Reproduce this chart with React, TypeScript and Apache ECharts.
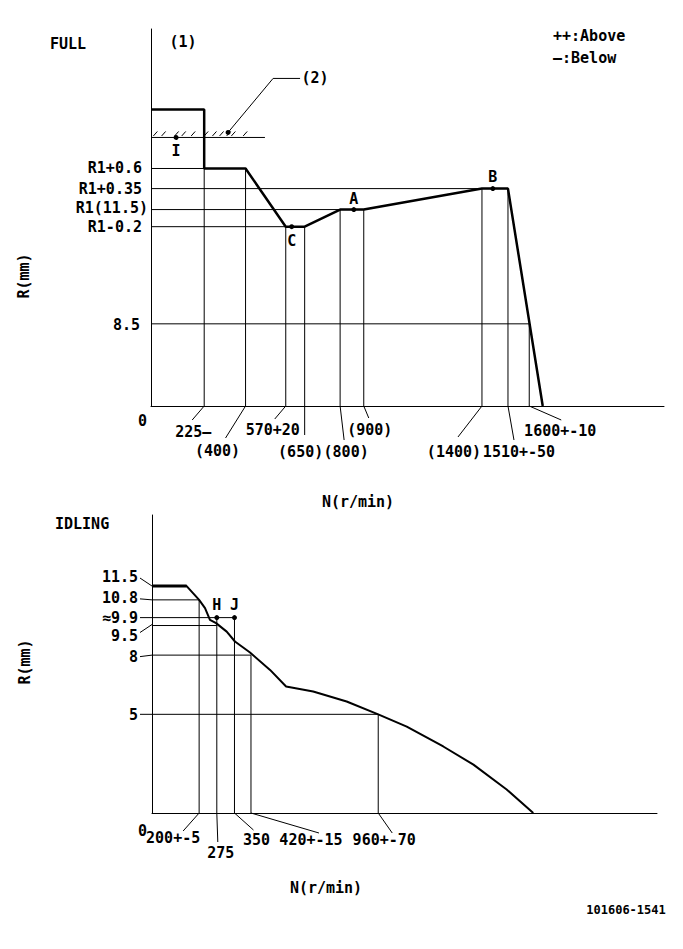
import React, { useEffect, useRef } from "react";
import * as echarts from "echarts";

const FAMILY = '"DejaVu Sans Mono", monospace';
const FONT = `bold 15px ${FAMILY}`;

// ---------------- FULL chart (schematic heights above 8.5) ----------------
const fullYLabels = ["0", "8.5", "R1-0.2", "R1(11.5)", "R1+0.35", "R1+0.6"];
const fullYLevels = [0, 8.5, 18.55, 20.32, 22.49, 24.57];
const fullYReach = [0, 1600, 650, 900, 1510, 225];
const fullStopLevel = 27.78;
const fullStopReach = 482;
const fullCurveRpm = [0, 225, 225, 400, 570, 650, 800, 900, 1400, 1510, 1657];
const fullCurveR = [30.68, 30.68, 24.57, 24.57, 18.55, 18.55, 20.32, 20.32, 22.49, 22.49, 0];
const fullTickRpm = [225, 400, 570, 650, 800, 900, 1400, 1510, 1600];
const fullTickLabels = ["225—", "(400)", "570+20", "(650)", "(800)", "(900)", "(1400)", "1510+-50", "1600+-10"];
const fullTickTop = [24.57, 24.57, 18.55, 18.55, 20.32, 20.32, 22.49, 22.49, 8.5];
const fullPointNames = ["I", "C", "A", "B"];
const fullPointRpm = [106, 595, 858, 1446];
const fullPointR = [27.78, 18.55, 20.32, 22.49];
const hatchRpm = [10, 45, 100, 130, 170, 225, 260, 290, 320, 340, 390];
const calloutRpm = [326];
const calloutR = [28.3];

// ---------------- IDLING chart ----------------
const idleYLabels = ["0", "5", "8", "9.5", "≈9.9", "10.8", "11.5"];
const idleYLevels = [0, 5, 8, 9.5, 9.9, 10.8, 11.5];
const idleYReach = [0, 960, 420, 275, 350, 200, 0];
const idleCurveRpm = [0, 147, 200, 225, 246, 272, 317, 352, 416, 501, 569, 684, 826, 960, 1081, 1236, 1364, 1505, 1618];
const idleCurveR = [11.5, 11.5, 10.8, 10.38, 9.79, 9.62, 9.19, 8.69, 8.13, 7.25, 6.41, 6.16, 5.65, 5.0, 4.38, 3.37, 2.45, 1.19, 0];
const idlePlateauRpm = [0, 147];
const idleTickRpm = [200, 275, 350, 420, 960];
const idleTickLabels = ["200+-5", "275", "350", "420+-15", "960+-70"];
const idleTickTop = [10.8, 9.9, 9.9, 8, 5];
const idlePointNames = ["H", "J"];
const idlePointRpm = [275, 350];
const idlePointR = [9.9, 9.9];

// ---------------- layout (pixel offsets) ----------------
const fullTickLeader = [[-12, 14], [-20, 32], [-11, 13], [0, 29], [4, 34], [5, 12], [-24, 31], [6, 34], [32, 14]];
const fullTickText = [[-11, 26], [-28, 45], [-13, 24], [-4, 46], [6, 46], [6, 24], [-28, 46], [11, 46], [31, 25]];
const fullYText = [[-4, 15], [-11, 1], [-9, 0], [-3, -2], [-9, 0], [-9, 0]];
const fullPointLabelDy = [14, 14, -11, -12];
const idleTickLeader = [[-16, 18], [1, 29], [19, 17], [68, 20], [14, 20]];
const idleTickText = [[-26, 25], [4, 40], [22, 27], [60, 27], [6, 27]];
const idleYText = [[-5, 18], [-14, 1], [-14, 2], [-14, 10], [-14, 0], [-14, -2], [-14, -9]];
const idleYLeader: (number[] | null)[] = [null, [-12, 0, 0, 0], [-12, 1.5, 0, 0], [-12, 7, 0, -1], [-12, 0, 0, 0], [-12, -1, 0, 0], [-12, -8, 0, 0]];
const idlePointLabelDy = [-13, -13];

function segSeries(grid: number, segs: number[][], width: number, z = 1) {
  return {
    type: "custom",
    xAxisIndex: grid,
    yAxisIndex: grid,
    silent: true,
    clip: false,
    z,
    data: segs,
    renderItem: (_p: any, api: any) => {
      const a = api.coord([api.value(0), api.value(1)]);
      const b = api.coord([api.value(2), api.value(3)]);
      return {
        type: "line",
        shape: { x1: a[0], y1: a[1], x2: b[0], y2: b[1] },
        style: { stroke: "#000", lineWidth: width },
      };
    },
  };
}

function tickSeries(grid: number, rpms: number[], labels: string[], leader: number[][], textPos: number[][]) {
  return {
    type: "custom",
    xAxisIndex: grid,
    yAxisIndex: grid,
    silent: true,
    clip: false,
    data: rpms.map((r, i) => [r, 0, i]),
    renderItem: (_p: any, api: any) => {
      const i = api.value(2);
      const p = api.coord([api.value(0), 0]);
      return {
        type: "group",
        children: [
          {
            type: "line",
            shape: { x1: p[0], y1: p[1], x2: p[0] + leader[i][0], y2: p[1] + leader[i][1] },
            style: { stroke: "#000", lineWidth: 1 },
          },
          {
            type: "text",
            x: p[0] + textPos[i][0],
            y: p[1] + textPos[i][1],
            style: { text: labels[i], font: FONT, fill: "#000", align: "center", verticalAlign: "middle" },
          },
        ],
      };
    },
  };
}

function yLabelSeries(grid: number, levels: number[], labels: string[], textPos: number[][], leaders: (number[] | null)[]) {
  return {
    type: "custom",
    xAxisIndex: grid,
    yAxisIndex: grid,
    silent: true,
    clip: false,
    data: levels.map((l, i) => [0, l, i]),
    renderItem: (_p: any, api: any) => {
      const i = api.value(2);
      const p = api.coord([0, api.value(1)]);
      const children: any[] = [
        {
          type: "text",
          x: p[0] + textPos[i][0],
          y: p[1] + textPos[i][1],
          style: { text: labels[i], font: FONT, fill: "#000", align: "right", verticalAlign: "middle" },
        },
      ];
      const ld = leaders[i];
      if (ld) {
        children.push({
          type: "line",
          shape: { x1: p[0] + ld[0], y1: p[1] + ld[1], x2: p[0] + ld[2], y2: p[1] + ld[3] },
          style: { stroke: "#000", lineWidth: 1 },
        });
      }
      return { type: "group", children };
    },
  };
}

function pointSeries(grid: number, names: string[], xs: number[], ys: number[], dy: number[]) {
  return {
    type: "custom",
    xAxisIndex: grid,
    yAxisIndex: grid,
    silent: true,
    clip: false,
    z: 5,
    data: names.map((_n, i) => [xs[i], ys[i], i]),
    renderItem: (_p: any, api: any) => {
      const i = api.value(2);
      const p = api.coord([api.value(0), api.value(1)]);
      return {
        type: "group",
        children: [
          { type: "circle", shape: { cx: p[0], cy: p[1], r: 2.5 }, style: { fill: "#000" } },
          {
            type: "text",
            x: p[0],
            y: p[1] + dy[i],
            style: { text: names[i], font: FONT, fill: "#000", align: "center", verticalAlign: "middle" },
          },
        ],
      };
    },
  };
}

function axisDef(grid: number, max: number) {
  return {
    type: "value",
    gridIndex: grid,
    min: 0,
    max,
    axisLine: { show: true, onZero: false, lineStyle: { color: "#000", width: 1 } },
    axisTick: { show: false },
    axisLabel: { show: false },
    splitLine: { show: false },
  };
}

function textEl(text: string, x: number, y: number, align = "left", size = 15, rotation = 0) {
  return {
    type: "text",
    x,
    y,
    rotation,
    style: { text, font: `bold ${size}px ${FAMILY}`, fill: "#000", align, verticalAlign: "middle" },
  };
}

export default function App() {
  const ref = useRef<HTMLDivElement>(null);
  useEffect(() => {
    if (!ref.current) return;
    const chart = echarts.init(ref.current, undefined, { renderer: "svg" });

    const fullSegs: number[][] = [];
    fullYLevels.forEach((l, i) => {
      if (fullYReach[i] > 0) fullSegs.push([0, l, fullYReach[i], l]);
    });
    fullTickRpm.forEach((r, i) => fullSegs.push([r, 0, r, fullTickTop[i]]));
    fullSegs.push([0, fullStopLevel, fullStopReach, fullStopLevel]);

    const idleSegs: number[][] = [];
    idleYLevels.forEach((l, i) => {
      if (idleYReach[i] > 0) idleSegs.push([0, l, idleYReach[i], l]);
    });
    idleTickRpm.forEach((r, i) => idleSegs.push([r, 0, r, idleTickTop[i]]));

    const option: any = {
      animation: false,
      backgroundColor: "#fff",
      grid: [
        { left: 151, top: 29, width: 513, height: 377 },
        { left: 152, top: 515, width: 505, height: 298 },
      ],
      xAxis: [axisDef(0, 2170), axisDef(1, 2143)],
      yAxis: [axisDef(0, 39), axisDef(1, 15.1)],
      series: [
        segSeries(0, fullSegs, 1),
        segSeries(1, idleSegs, 1),
        {
          type: "line",
          xAxisIndex: 0,
          yAxisIndex: 0,
          silent: true,
          z: 3,
          showSymbol: false,
          lineStyle: { color: "#000", width: 2.5 },
          data: fullCurveRpm.map((r, i) => [r, fullCurveR[i]]),
        },
        {
          type: "line",
          xAxisIndex: 1,
          yAxisIndex: 1,
          silent: true,
          z: 3,
          showSymbol: false,
          lineStyle: { color: "#000", width: 2 },
          data: idleCurveRpm.map((r, i) => [r, idleCurveR[i]]),
        },
        {
          type: "line",
          xAxisIndex: 1,
          yAxisIndex: 1,
          silent: true,
          z: 3,
          showSymbol: false,
          lineStyle: { color: "#000", width: 3 },
          data: idlePlateauRpm.map((r) => [r, idleCurveR[0]]),
        },
        {
          type: "custom",
          xAxisIndex: 0,
          yAxisIndex: 0,
          silent: true,
          clip: false,
          data: hatchRpm.map((r) => [r, fullStopLevel]),
          renderItem: (_p: any, api: any) => {
            const p = api.coord([api.value(0), api.value(1)]);
            return {
              type: "line",
              shape: { x1: p[0], y1: p[1] - 1.5, x2: p[0] + 4, y2: p[1] - 6 },
              style: { stroke: "#000", lineWidth: 1 },
            };
          },
        },
        {
          type: "custom",
          xAxisIndex: 0,
          yAxisIndex: 0,
          silent: true,
          clip: false,
          data: calloutRpm.map((r, i) => [r, calloutR[i]]),
          renderItem: (_p: any, api: any) => {
            const p = api.coord([api.value(0), api.value(1)]);
            return {
              type: "group",
              children: [
                { type: "circle", shape: { cx: p[0], cy: p[1], r: 2.5 }, style: { fill: "#000" } },
                {
                  type: "polyline",
                  shape: { points: [[p[0], p[1]], [p[0] + 45, p[1] - 54], [p[0] + 72, p[1] - 54]] },
                  style: { stroke: "#000", lineWidth: 1, fill: "none" },
                },
                {
                  type: "text",
                  x: p[0] + 87,
                  y: p[1] - 54,
                  style: { text: "(2)", font: FONT, fill: "#000", align: "center", verticalAlign: "middle" },
                },
              ],
            };
          },
        },
        tickSeries(0, fullTickRpm, fullTickLabels, fullTickLeader, fullTickText),
        tickSeries(1, idleTickRpm, idleTickLabels, idleTickLeader, idleTickText),
        yLabelSeries(0, fullYLevels, fullYLabels, fullYText, fullYLabels.map(() => null)),
        yLabelSeries(1, idleYLevels, idleYLabels, idleYText, idleYLeader),
        pointSeries(0, fullPointNames, fullPointRpm, fullPointR, fullPointLabelDy),
        pointSeries(1, idlePointNames, idlePointRpm, idlePointR, idlePointLabelDy),
      ],
      graphic: [
        textEl("FULL", 50, 44),
        textEl("(1)", 183, 42, "center"),
        textEl("++:Above", 553, 36),
        textEl("—:Below", 553, 58),
        textEl("R(mm)", 24, 276, "center", 15, Math.PI / 2),
        textEl("N(r/min)", 358, 502, "center"),
        textEl("IDLING", 55, 524),
        textEl("R(mm)", 25, 662, "center", 15, Math.PI / 2),
        textEl("N(r/min)", 326, 888, "center"),
        textEl("101606-1541", 626, 910, "center", 12),
      ],
    };
    chart.setOption(option);
    return () => chart.dispose();
  }, []);
  return (
    <div
      ref={ref}
      style={{ position: "absolute", left: 0, top: 0, width: 683, height: 949, background: "#fff" }}
    />
  );
}
